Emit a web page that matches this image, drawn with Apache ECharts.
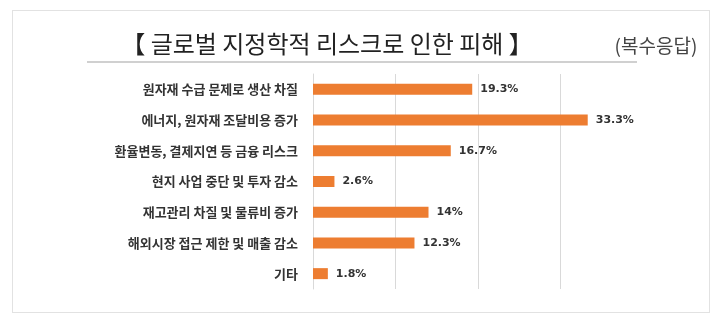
<!DOCTYPE html>
<html><head><meta charset="utf-8">
<script src="https://cdn.jsdelivr.net/npm/echarts@6/dist/echarts.min.js"></script>
<style>html,body{margin:0;padding:0;background:#fff}#c{width:720px;height:324px}</style>
</head><body><div id="c"></div>
<script>
const titleText = '【 글로벌 지정학적 리스크로 인한 피해 】';
const noteText = '(복수응답)';
const categories = ['원자재 수급 문제로 생산 차질','에너지, 원자재 조달비용 증가','환율변동, 결제지연 등 금융 리스크','현지 사업 중단 및 투자 감소','재고관리 차질 및 물류비 증가','해외시장 접근 제한 및 매출 감소','기타'];
const values = [19.3, 33.3, 16.7, 2.6, 14, 12.3, 1.8];
const labels = ['19.3%','33.3%','16.7%','2.6%','14%','12.3%','1.8%'];

const chart = echarts.init(document.getElementById('c'));
chart.setOption({
  backgroundColor: '#fff',
  animation: false,
  grid: {left: 313, right: 77, top: 74, height: 215, containLabel: false},
  xAxis: {type: 'value', min: 0, max: 40, interval: 10,
    axisLabel: {show: false}, axisLine: {show: false}, axisTick: {show: false},
    splitLine: {show: true, showMaxLine: false, lineStyle: {color: '#d9d9d9', width: 1}}},
  yAxis: {type: 'category', data: categories, inverse: true,
    axisTick: {show: false},
    axisLine: {show: true, lineStyle: {color: '#d9d9d9', width: 1}},
    axisLabel: {margin: 15, color: '#333', fontSize: 13, fontWeight: 'bold', fontFamily: 'Noto Sans CJK KR'}},
  series: [{type: 'bar', data: values, barWidth: 11,
    itemStyle: {color: '#ED7D31'},
    label: {show: true, position: 'right', distance: 8, color: '#333', fontSize: 11, fontWeight: 'bold', fontFamily: 'DejaVu Sans',
      formatter: p => labels[p.dataIndex]}}],
  graphic: [
    {type: 'rect', shape: {x: 12.5, y: 10.5, width: 697, height: 302}, style: {fill: 'none', stroke: '#c4c4c4', lineWidth: 1, lineDash: [1, 1]}, z: -1},
    {type: 'line', shape: {x1: 87, y1: 62, x2: 637, y2: 62}, style: {stroke: '#d0d0d0', lineWidth: 2}},
    {type: 'text', x: 327, y: 44, style: {text: titleText, fill: '#222', fontSize: 24, fontFamily: 'Noto Sans CJK KR', align: 'center', verticalAlign: 'middle'}},
    {type: 'text', x: 656, y: 46, style: {text: noteText, fill: '#444', fontSize: 19, fontFamily: 'Noto Sans CJK KR', align: 'center', verticalAlign: 'middle'}}
  ]
});
</script></body></html>
